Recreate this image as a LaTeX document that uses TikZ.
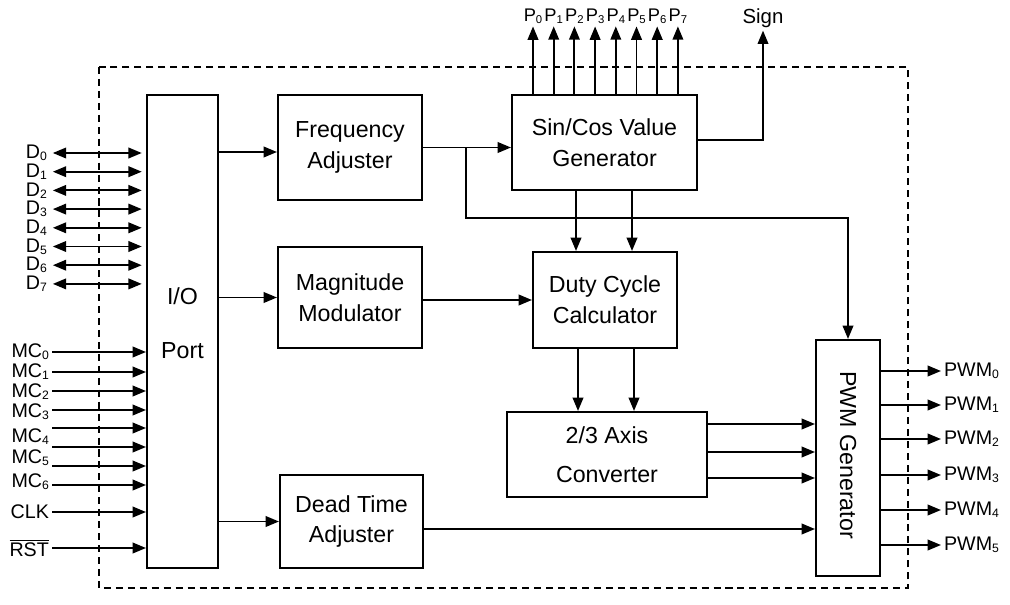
\documentclass[tikz,border=0pt]{standalone}
\usepackage{fontspec}
\setmainfont{Liberation Sans}
\usetikzlibrary{arrows.meta}
\newcommand{\idx}[1]{\raisebox{-0.2ex}{\scalebox{0.62}{#1}}}

\begin{document}
\begin{tikzpicture}[x=0.025cm,y=-0.025cm,
        blk/.style={draw,line width=1.4pt,inner sep=0pt,align=center,
            font=\fontsize{16.5}{22}\selectfont},
        arr/.style={line width=1.4pt,-{Triangle[length=9.5pt,width=7.5pt]}},
        darr/.style={line width=1.4pt,{Triangle[length=9.5pt,width=7.5pt]}-{Triangle[length=9.5pt,width=7.5pt]}},
        pin/.style={font=\fontsize{14}{16}\selectfont,inner sep=2pt}]
    \useasboundingbox (0,0) rectangle (1010,604);
    \draw [line width=1.4pt,dash pattern=on 5pt off 3.5pt] (99,67) rectangle (908,588);

    \node [blk,minimum width=1.775cm,minimum height=11.825cm] (io) at (182.5,331.5) {};
    \node [font=\fontsize{16.5}{22}\selectfont,align=center] (iotxt) at (182.5,323) {I/O\\[16pt]Port};
    \node [blk,minimum width=3.6cm,minimum height=2.625cm] (freq) at (350,147.5) {Frequency\\Adjuster};
    \node [blk,minimum width=3.6cm,minimum height=2.525cm] (mag) at (350,297.5) {Magnitude\\Modulator};
    \node [blk,minimum width=3.575cm,minimum height=2.325cm] (dead) at (351.5,521.5) {Dead Time\\Adjuster};
    \node [blk,minimum width=4.625cm,minimum height=2.375cm] (sincos) at (604.5,142.5) {Sin/Cos Value\\Generator};
    \node [blk,minimum width=3.6cm,minimum height=2.4cm] (duty) at (605,300) {Duty Cycle\\Calculator};
    \node [blk,minimum width=5cm,minimum height=2.125cm] (conv) at (607,454.5) {2/3 Axis\\[6pt]Converter};
    \node [blk,minimum width=1.6cm,minimum height=5.9cm] (pwm) at (848,458) {};
    \node [rotate=-90,font=\fontsize{16.5}{22}\selectfont] (pwmtxt) at (848,455) {PWM Generator};

    \foreach \i in {0,...,7}{
        \node [pin,anchor=east] (d\i) at (50,153+18.7*\i) {D\idx{\i}};
        \draw [darr,shorten <=2pt,shorten >=3pt] (d\i.east) -- (io.west |- d\i.east);
    }
    \foreach \y [count=\i from 0] in {352,372,392,412,437,458,482}
        \node [pin,anchor=east] (mc\i) at (52,\y) {MC\idx{\i}};
    \foreach \i/\y in {0/352,1/372,2/391,3/410,4/428,4/447,5/466,6/485}
        \draw [arr] (mc\i.east |- 0,\y) -- (io.west |- 0,\y);
    \node [pin,anchor=east] (clk) at (52,512) {CLK};
    \node [pin,anchor=east] (rst) at (52,548) {$\overline{\mbox{RST}}$};
    \draw [arr] (clk.east) -- (io.west |- clk.east);
    \draw [arr] (rst.east |- 0,548) -- (io.west |- 0,548);

    \draw [arr] (io.east |- 0,152) -- (freq.west |- 0,152);
    \draw [arr] (io.east |- mag.west) -- (mag.west);
    \draw [arr] (io.east |- dead.west) -- (dead.west);

    \draw [arr] (freq.east) -- (freq.east -| sincos.west);
    \coordinate (tap) at (freq.east -| 466,0);
    \draw [arr] (tap) -- (tap |- 0,218) -| (pwm.north);
    \draw [arr] (mag.east |- duty.west) -- (duty.west);
    \foreach \x in {576,632}
        \draw [arr] (\x,0 |- sincos.south) -- (\x,0 |- duty.north);
    \foreach \x in {578,634}
        \draw [arr] (\x,0 |- duty.south) -- (\x,0 |- conv.north);
    \foreach \y in {424,452,478}
        \draw [arr] (conv.east |- 0,\y) -- (pwm.west |- 0,\y);
    \draw [arr] (dead.east |- 0,529) -- (pwm.west |- 0,529);

    \foreach \i in {0,...,7}{
        \node [pin,font=\fontsize{13}{15}\selectfont] (p\i) at (533+20.7*\i,16) {P\idx{\i}};
        \draw [arr] (p\i.south |- sincos.north) -- (p\i.south);
    }
    \node [pin,font=\fontsize{14.5}{16}\selectfont] (sign) at (763,18) {Sign};
    \draw [arr] (sincos.east |- 0,140) -| (sign.south);

    \foreach \y [count=\i from 0] in {371,405,439,475,510,545}{
        \node [pin,anchor=west] (pwmo\i) at (941,\y) {PWM\idx{\i}};
        \draw [arr] (pwm.east |- pwmo\i.west) -- (pwmo\i.west);
    }
\end{tikzpicture}
\end{document}
